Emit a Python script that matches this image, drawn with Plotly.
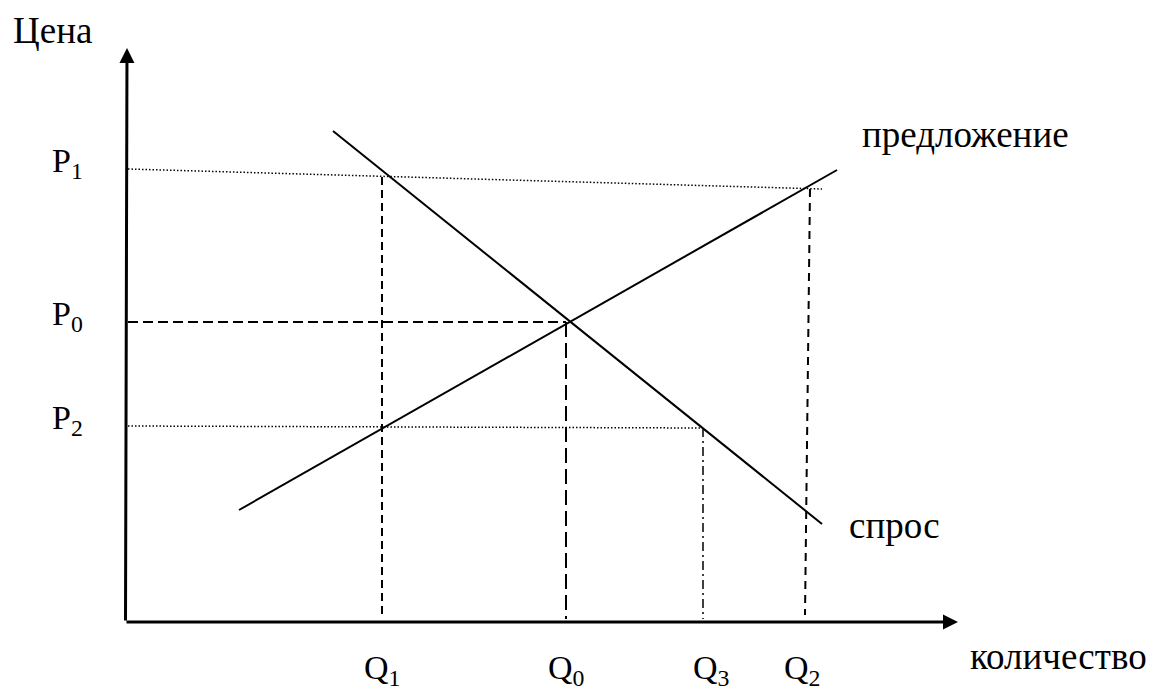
import plotly.graph_objects as go

# ---- data (units; origin at the axes corner) ----
q_labels = ["Q<sub>1</sub>", "Q<sub>0</sub>", "Q<sub>3</sub>", "Q<sub>2</sub>"]
q_values = [25.7, 44.1, 57.8, 68.3]
p_labels = ["P<sub>1</sub>", "P<sub>0</sub>", "P<sub>2</sub>"]
p_values = [45.3, 30.0, 19.6]

demand_q = [20.8, 69.7]
demand_p = [49.1, 9.8]
supply_q = [11.4, 71.2]
supply_p = [11.2, 45.2]

# guide lines (level at the left end, level at the right end, length)
p1_guide_q = [0.3, 69.7]
p1_guide_p = [45.3, 43.3]
p0_guide_q = [0.3, 44.1]
p0_guide_p = [30.0, 30.0]
p2_guide_q = [0.3, 57.7]
p2_guide_p = [19.6, 19.4]

q1_guide_q = [25.7, 25.7]
q1_guide_p = [44.5, 0.7]
q0_guide_q = [44.1, 44.1]
q0_guide_p = [30.0, 0.3]
q3_guide_q = [57.8, 57.8]
q3_guide_p = [19.4, 0.3]
q2_guide_q = [68.5, 68.0]
q2_guide_p = [43.3, 0.7]

axis_tip_q = 83.3
axis_tip_p = 57.4

FONT = "Liberation Serif"
FS = 34
FS_WORDS = 37
BLACK = "#000000"

fig = go.Figure()

def line(xs, ys, width, dash="solid"):
    fig.add_trace(go.Scatter(x=xs, y=ys, mode="lines",
                             line=dict(color=BLACK, width=width, dash=dash),
                             hoverinfo="skip", showlegend=False))

# guides
line(p1_guide_q, p1_guide_p, 1.5, "1.5px,2px")
line(p0_guide_q, p0_guide_p, 2, "10px,5px")
line(p2_guide_q, p2_guide_p, 1.5, "1.5px,2px")
line(q1_guide_q, q1_guide_p, 2, "8px,5px")
line(q0_guide_q, q0_guide_p, 2, "15px,6px")
line(q3_guide_q, q3_guide_p, 1.5, "9px,4px,2px,4px")
line(q2_guide_q, q2_guide_p, 2, "8px,6px")

# curves
line(demand_q, demand_p, 2)
line(supply_q, supply_p, 2)

annotations = []
# axes with arrows
annotations.append(dict(x=0.2, y=axis_tip_p, ax=0.05, ay=0, xref="x", yref="y",
                        axref="x", ayref="y", showarrow=True, arrowhead=2,
                        arrowsize=1, arrowwidth=3, arrowcolor=BLACK, text=""))
annotations.append(dict(x=axis_tip_q, y=0, ax=0, ay=0, xref="x", yref="y",
                        axref="x", ayref="y", showarrow=True, arrowhead=2,
                        arrowsize=1, arrowwidth=3, arrowcolor=BLACK, text=""))

font = dict(family=FONT, size=FS, color=BLACK)
font_w = dict(family=FONT, size=FS_WORDS, color=BLACK)
for lab, v in zip(p_labels, p_values):
    annotations.append(dict(x=-5.8, y=v + 0.6, xref="x", yref="y", text=lab,
                            showarrow=False, xanchor="center", yanchor="middle", font=font))
q_label_shift = [0.0, 0.0, 0.8, -0.6]
for lab, v, s in zip(q_labels, q_values, q_label_shift):
    annotations.append(dict(x=v + s, y=-7.1, xref="x", yref="y", text=lab,
                            showarrow=False, xanchor="center", yanchor="bottom", font=font))

annotations.append(dict(x=-11.4, y=59.2, xref="x", yref="y", text="Цена",
                        showarrow=False, xanchor="left", yanchor="middle", font=font_w))
annotations.append(dict(x=73.5, y=48.8, xref="x", yref="y", text="предложение",
                        showarrow=False, xanchor="left", yanchor="middle", font=font_w))
annotations.append(dict(x=72.2, y=9.7, xref="x", yref="y", text="спрос",
                        showarrow=False, xanchor="left", yanchor="middle", font=font_w))
annotations.append(dict(x=84.3, y=-3.4, xref="x", yref="y", text="количество",
                        showarrow=False, xanchor="left", yanchor="middle", font=font_w))

fig.update_layout(
    width=1150, height=695,
    margin=dict(l=0, r=0, t=0, b=0),
    paper_bgcolor="white", plot_bgcolor="white",
    xaxis=dict(range=[-12.5, 102.5], visible=False, fixedrange=True),
    yaxis=dict(range=[-7.3, 62.2], visible=False, fixedrange=True),
    annotations=annotations,
    showlegend=False,
)

fig.write_html("out.html", config={"displayModeBar": False},
               post_script="document.body.style.margin='0';document.body.style.overflow='hidden';")
